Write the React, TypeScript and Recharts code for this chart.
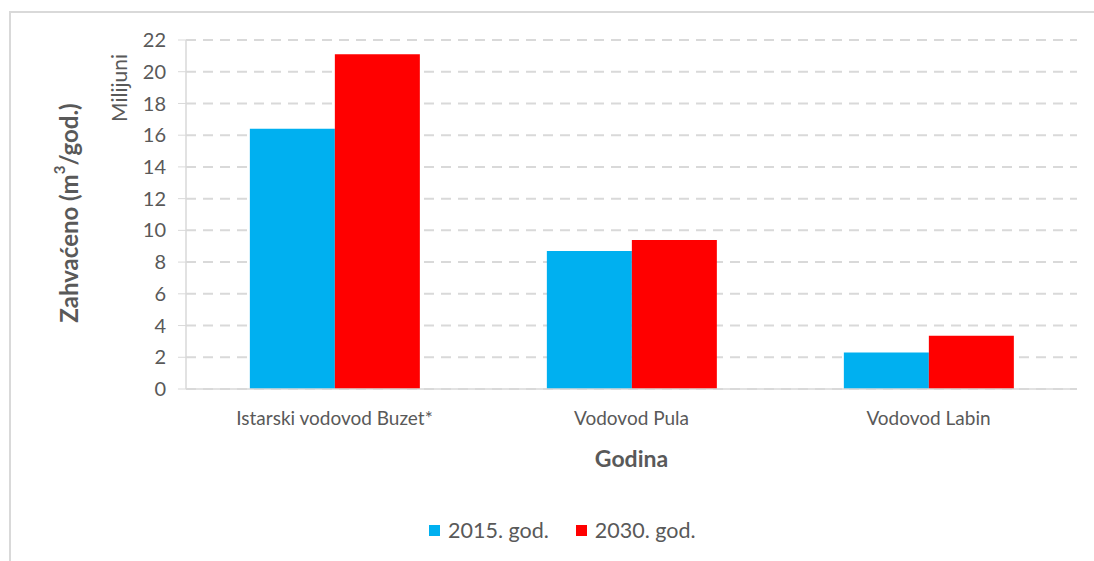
import React from 'react'
import { BarChart, Bar, XAxis, YAxis, CartesianGrid, Legend, Label } from 'recharts'

const categories = ['Istarski vodovod Buzet*', 'Vodovod Pula', 'Vodovod Labin']
const values2015 = [16.4, 8.7, 2.3]
const values2030 = [21.1, 9.4, 3.35]
const yTicks = [0, 2, 4, 6, 8, 10, 12, 14, 16, 18, 20, 22]

const seriesNames = ['2015. god.', '2030. god.']
const BLUE = '#00B0F0'
const RED = '#FF0000'
const FONT = 'Lato, "Open Sans", sans-serif'
const TEXT = '#595959'

const data = categories.map((name, i) => ({
  name,
  y2015: values2015[i],
  y2030: values2030[i],
}))

function LegendBox() {
  const items = [
    { label: seriesNames[0], color: BLUE },
    { label: seriesNames[1], color: RED },
  ]
  return (
    <div style={{ display: 'flex', alignItems: 'center', fontFamily: FONT, fontSize: 21.5, color: TEXT, height: 24 }}>
      {items.map((it) => (
        <div key={it.label} style={{ display: 'flex', alignItems: 'center', marginRight: 27 }}>
          <span style={{ width: 11, height: 11, background: it.color, marginRight: 8, display: 'inline-block' }} />
          <span>{it.label}</span>
        </div>
      ))}
    </div>
  )
}

export default function App() {
  return (
    <div style={{ position: 'absolute', left: 0, top: 0, width: 1094, height: 561, background: '#fff', overflow: 'hidden' }}>
      <div
        style={{
          position: 'absolute',
          left: 9,
          top: 11,
          width: 1200,
          height: 700,
          border: '2px solid #d9d9d9',
          boxSizing: 'border-box',
        }}
      />
      <BarChart
        width={1094}
        height={561}
        data={data}
        margin={{ top: 40, right: 17, left: 126, bottom: 108 }}
        barCategoryGap="21.5%"
        barGap={0}
        style={{ position: 'absolute', left: 0, top: 0 }}
      >
        <CartesianGrid vertical={false} stroke="#d9d9d9" strokeWidth={2} strokeDasharray="10 7" />
        <XAxis
          dataKey="name"
          height={40}
          tickLine={false}
          tickSize={0}
          tickMargin={23}
          axisLine={{ stroke: '#d9d9d9', strokeWidth: 1.5 }}
          tick={{ fill: TEXT, fontSize: 19, fontFamily: FONT }}
        >
          <Label
            value="Godina"
            position="bottom"
            offset={22}
            style={{ fill: TEXT, fontSize: 23, fontWeight: 'bold', fontFamily: FONT }}
          />
        </XAxis>
        <YAxis
          width={60}
          domain={[0, 22]}
          ticks={yTicks}
          interval={0}
          tickSize={8}
          tickMargin={12}
          tickLine={{ stroke: '#d9d9d9' }}
          axisLine={{ stroke: '#d9d9d9', strokeWidth: 1.5 }}
          tick={{ fill: TEXT, fontSize: 20, fontFamily: FONT }}
        >
          <Label
            content={({ viewBox }: any) => (
              <g>
                <text
                  x={0}
                  y={0}
                  transform={`translate(${viewBox.x - 58}, ${viewBox.y + 173}) rotate(-90)`}
                  textAnchor="middle"
                  dominantBaseline="central"
                  fill={TEXT}
                  fontSize={24}
                  fontWeight="bold"
                  fontFamily={FONT}
                >
                  Zahvaćeno (m
                  <tspan dy={-9} fontSize={15}>3</tspan>
                  <tspan dy={9}>/god.)</tspan>
                </text>
                <text
                  x={0}
                  y={0}
                  transform={`translate(${viewBox.x - 8}, ${viewBox.y + 48}) rotate(-90)`}
                  textAnchor="middle"
                  dominantBaseline="central"
                  fill={TEXT}
                  fontSize={21}
                  fontFamily={FONT}
                >
                  Milijuni
                </text>
              </g>
            )}
          />
        </YAxis>
        <Legend
          verticalAlign="bottom"
          content={() => <LegendBox />}
          wrapperStyle={{ position: 'absolute', left: 429, top: 518, width: 360, bottom: 'auto' }}
        />
        <Bar dataKey="y2015" name={seriesNames[0]} fill={BLUE} isAnimationActive={false} />
        <Bar dataKey="y2030" name={seriesNames[1]} fill={RED} isAnimationActive={false} />
      </BarChart>
    </div>
  )
}
